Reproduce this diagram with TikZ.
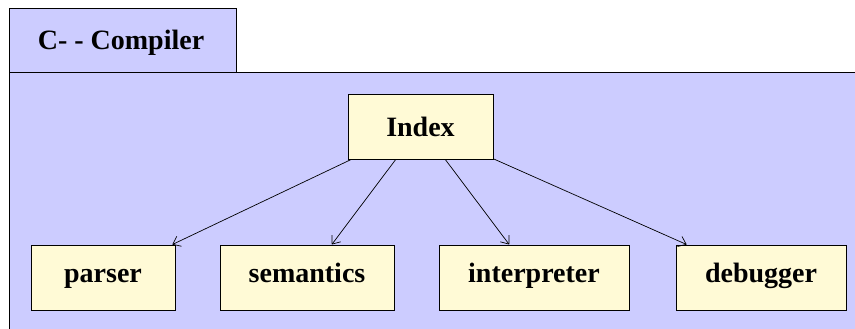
\documentclass[tikz,border=0pt]{standalone}
\usepackage{fontspec}
\setmainfont{Liberation Serif}
\usetikzlibrary{arrows.meta}
\definecolor{pkgfill}{HTML}{CCCCFF}
\definecolor{classfill}{HTML}{FFFAD6}
\tikzset{
  pkgline/.style={draw=black, line width=0.9pt},
  labelfont/.style={font=\fontsize{28}{34}\selectfont\bfseries},
  classbox/.style={draw=black, line width=0.9pt, fill=classfill, rectangle,
    minimum height=65pt, inner sep=0pt, labelfont,
    text height=20pt, text depth=10pt},
  dep/.style={draw=black, line width=0.7pt, -{Straight Barb[length=7pt,width=11pt]}}
}
\begin{document}
\begin{tikzpicture}[x=1pt, y=-1pt]
  \useasboundingbox (0,0) rectangle (855,329);
  % package body (runs off the right and bottom edges)
  \begin{scope}
    \clip (0,0) rectangle (855,329);
    \fill[pkgfill] (9,72) rectangle (870,340);
    \draw[pkgline] (870,72) -- (9,72) -- (9,340);
    % package tab
    \fill[pkgfill] (9,8) rectangle (236,72);
    \draw[pkgline] (9,72) -- (9,8) -- (236,8) -- (236,72);
  \end{scope}
  \node[labelfont, inner sep=0pt, text height=20pt, text depth=0pt] (title) at (121,40) {C- - Compiler};

  % classes
  \node[classbox, minimum width=145pt, text depth=1pt] (index) at (420.5,126.5) {Index};
  \node[classbox, minimum width=144pt] (parser) at (103,277.5) {parser};
  \node[classbox, minimum width=174pt] (semantics) at (307,277.5) {semantics};
  \node[classbox, minimum width=190pt] (interpreter) at (534,277.5) {interpreter};
  \node[classbox, minimum width=170pt] (debugger) at (761,277.5) {debugger};

  % dependencies
  \draw[dep] (index) -- (parser);
  \draw[dep] (index) -- (semantics);
  \draw[dep] (index) -- (interpreter);
  \draw[dep] (index) -- (debugger);
\end{tikzpicture}
\end{document}
